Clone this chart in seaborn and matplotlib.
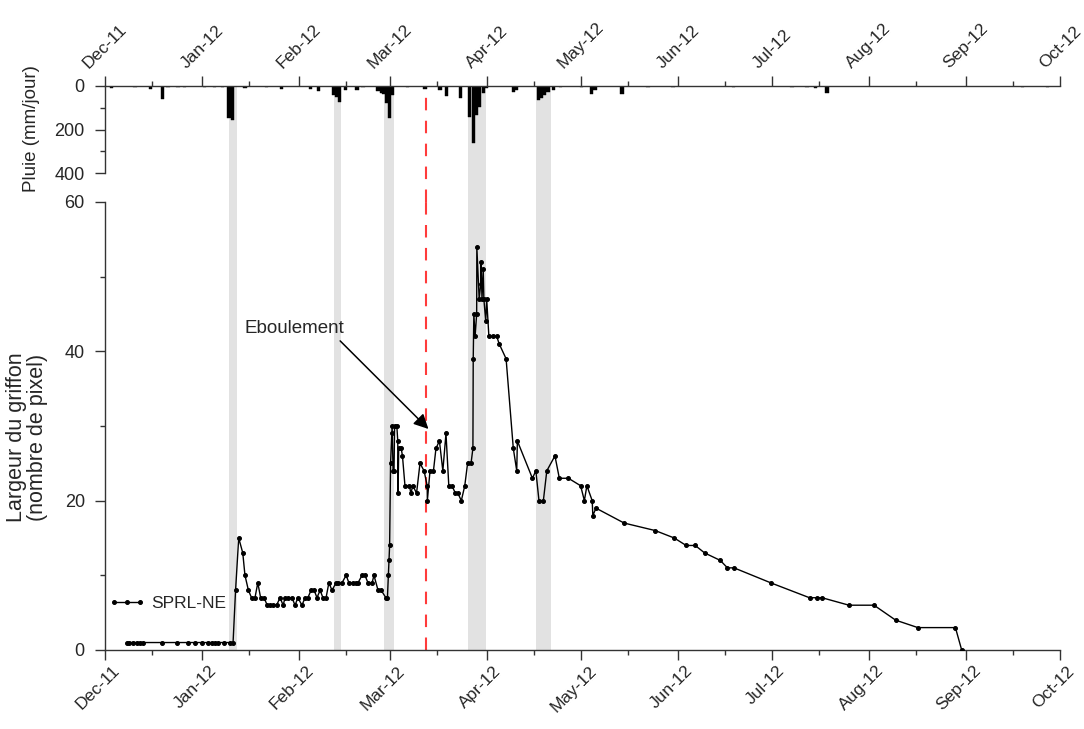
import numpy as np
import pandas as pd
import matplotlib
matplotlib.use("Agg")
import matplotlib.pyplot as plt
import matplotlib.dates as mdates
import matplotlib.transforms as mtransforms
from matplotlib.legend_handler import HandlerLine2D
import seaborn as sns

# ---------------- data ----------------
start_date = "2011-12-01"
# main series: days since 2011-12-01 and width (pixels)
griffon_days = [7, 7.7, 8.9, 10.2, 11.2, 12.1, 18.2, 23, 26.5, 28.7, 31, 32.9, 34.2, 35.1, 36.1, 38, 39.9, 40.9,
                41.7, 42.7, 44, 44.7, 45.8, 46.8, 47.9, 48.8, 49.7, 50.8, 51.8, 52.8, 53.8, 54.8, 55.9, 56.9,
                57.5, 58.4, 59.7, 60.7, 61.6, 62.9, 63.9, 64.8, 65.8, 66.8, 67.7, 68.7, 69.6, 70.6, 71.5, 72.5,
                73.8, 74.4, 75.7, 77, 77.9, 79.2, 80.2, 80.8, 82.1, 83, 84, 85.3, 85.9, 87.2, 88.2, 89.7, 90.2,
                90.5, 90.7, 90.9, 91.2, 91.6, 91.7, 92.0, 92.3, 92.5, 93.2, 93.5, 93.6, 93.8, 94.6, 95.0, 95.8,
                97.2, 97.7, 98.3, 99.5, 100.6, 101.9, 102.9, 102.95, 103.8, 104.9, 105.7, 106.8, 107.9, 108.9,
                109.8, 110.8, 111.9, 112.7, 113.8, 114.9, 115.8, 116.9, 117.5, 117.6, 117.8, 118.2, 118.7,
                118.75, 119.5, 120.0, 120.1, 120.4, 120.8, 121.0, 121.6, 121.9, 122.6, 124.0, 125.1, 125.9,
                128.1, 130.4, 131.5, 131.7, 136.5, 137.6, 138.6, 140.0, 141.1, 143.7, 145.1, 148.0, 151.9,
                153.1, 153.9, 155.6, 155.8, 156.8, 165.8, 175.7, 181.8, 185.6, 188.5, 191.5, 196.5, 198.8,
                200.9, 212.6, 225.0, 227.5, 229.0, 237.6, 245.6, 252.5, 259.6, 271.6, 273.6]
griffon_width = [1, 1, 1, 1, 1, 1, 1, 1, 1, 1, 1, 1, 1, 1, 1, 1, 1, 1,
                 8, 15, 13, 10, 8, 7, 7, 9, 7, 7, 6, 6, 6, 6, 7, 6,
                 7, 7, 7, 6, 7, 6, 7, 7, 8, 8, 7, 8, 7, 7, 9, 8,
                 9, 9, 9, 10, 9, 9, 9, 9, 10, 10, 9, 9, 10, 8, 8, 7, 7,
                 10, 12, 14, 25, 29, 30, 24, 24, 30, 30, 28, 21, 27, 27, 26, 22,
                 22, 21, 22, 21, 25, 24, 22, 20, 24, 24, 27, 28, 24, 29,
                 22, 22, 21, 21, 20, 22, 25, 25, 27, 39, 45, 42, 45,
                 54, 47, 49, 52, 47, 51, 47, 44, 47, 42, 42, 42, 41,
                 39, 27, 24, 28, 23, 24, 20, 20, 24, 26, 23, 23, 22,
                 20, 22, 20, 18, 19, 17, 16, 15, 14, 14, 13, 12, 11,
                 11, 9, 7, 7, 7, 6, 6, 4, 3, 3, 0]

# daily rainfall (mm/jour), days since 2011-12-01
rain_days = [2, 9.6, 14.4, 18.5, 20.1, 23.3, 25.5, 31.9, 35, 37.4, 39.6, 40.6, 44.7, 51.7, 56.5, 65.5, 68.3,
             73, 74, 75, 76.7, 80.5, 82.4, 87.2, 88.2, 89.1, 89.9, 90.8, 91.7, 96.5, 102.2, 107, 109.2, 113.4,
             116.5, 117.6, 118.7, 119.7, 120.8, 121.8, 130.5, 131.5, 138.4, 139.5, 140.5, 141.5, 143.1, 145.5,
             152.3, 155.5, 156.5, 165.1, 173.4, 181.4, 200.6, 219.4, 224.2, 226.8, 230.6, 292.9, 300.9]
rain_mm = [10, 4, 15, 60, 6, 4, 5, 4, 3, 3, 145, 155, 8, 4, 14, 15, 22,
           40, 52, 72, 20, 18, 5, 25, 30, 35, 80, 146, 40, 5, 15, 20, 45, 57,
           141, 261, 133, 95, 34, 10, 28, 20, 64, 55, 40, 28, 20, 5,
           5, 37, 20, 37, 4, 4, 5, 4, 6, 8, 30, 3, 4]

# rain events (grey bands), days since 2011-12-01
band_start = [39.6, 73.1, 89.1, 116.0, 137.7]
band_end = [42.2, 75.4, 92.3, 121.7, 142.4]
rockfall_day = 102.5

xlim_dates = ["2011-12-01", "2012-10-01"]
series_label = "SPRL-NE"

# ---------------- plotting ----------------
sns.set_theme(style="ticks")
plt.rcParams["font.family"] = ["Liberation Sans", "DejaVu Sans"]

base = pd.Timestamp(start_date)
to_date = lambda d: base + pd.to_timedelta(np.asarray(d, dtype=float), unit="D")

df = pd.DataFrame({"date": to_date(griffon_days), "width": griffon_width})
rain_dates = to_date(rain_days)

W, H = 1084, 729
fig = plt.figure(figsize=(W / 100, H / 100), dpi=100)
ax = fig.add_axes([105 / W, 79 / H, 955 / W, 448 / H])
axr = fig.add_axes([105 / W, 527 / H, 955 / W, 116 / H])

x0, x1 = pd.Timestamp(xlim_dates[0]), pd.Timestamp(xlim_dates[1])

for a in (ax, axr):
    for s, e in zip(band_start, band_end):
        a.axvspan(to_date(s), to_date(e), color="#e2e2e2", lw=0, zorder=0)
    a.axvline(to_date(rockfall_day), color="#ff3b3b", lw=1.5, ls=(0, (6, 5)), zorder=1)

# main line
sns.lineplot(data=df, x="date", y="width", ax=ax, color="black", marker="o", markersize=2.8,
             markeredgecolor="black", linewidth=1.0, sort=False, estimator=None, label=series_label,
             zorder=3)

# rain bars
axr.bar(rain_dates, rain_mm, width=1.0, color="black", edgecolor="black", linewidth=0.3,
        align="center", zorder=2)

for a in (ax, axr):
    a.set_xlim(x0, x1)
    a.xaxis.set_major_locator(mdates.MonthLocator())
    a.xaxis.set_minor_locator(mdates.MonthLocator(bymonthday=16))
    a.xaxis.set_major_formatter(mdates.DateFormatter("%b-%y"))
    a.tick_params(which="major", length=7.5, width=1, color="#333333", direction="out")
    a.tick_params(which="minor", length=3.8, width=1, color="#333333", direction="out")
    a.tick_params(axis="x", labelsize=12.5, pad=2)
    a.tick_params(axis="y", labelsize=13, pad=7)
    a.set_xlabel("")
    for sp in a.spines.values():
        sp.set_color("#333333")
        sp.set_linewidth(1)

# main axes
ax.set_ylim(0, 60)
ax.set_yticks([0, 20, 40, 60])
ax.set_yticks([10, 30, 50], minor=True)
ax.spines["top"].set_visible(False)
ax.spines["right"].set_visible(False)
ax.set_ylabel("Largeur du griffon\n(nombre de pixel)", fontsize=15.5, linespacing=1.0)
ax.yaxis.set_label_coords(-0.060, 0.475)
shift_b = mtransforms.ScaledTranslation(-7 / 100, 0, fig.dpi_scale_trans)
for lbl in ax.get_xticklabels():
    lbl.set_rotation(45)
    lbl.set_ha("center")
    lbl.set_va("top")
    lbl.set_transform(lbl.get_transform() + shift_b)

# rain axes
axr.set_ylim(533, 0)
axr.set_yticks([0, 200, 400])
axr.set_yticks([100, 300], minor=True)
axr.spines["left"].set_bounds(0, 400)
axr.spines["bottom"].set_visible(False)
axr.spines["right"].set_visible(False)
axr.xaxis.tick_top()
axr.tick_params(axis="x", which="both", top=True, bottom=False, labeltop=True, labelbottom=False, pad=3)
axr.set_ylabel("Pluie (mm/jour)", fontsize=13.5)
axr.yaxis.set_label_coords(-0.068, 0.634)
for lbl in axr.get_xticklabels():
    lbl.set_rotation(45)
    lbl.set_ha("center")
    lbl.set_va("bottom")
axr.patch.set_alpha(0)

# annotation
ax.annotate("", xy=(to_date(103.3), 29.6), xytext=(to_date(75.1), 41.4),
            arrowprops=dict(arrowstyle="-|>", color="black", lw=1.1, mutation_scale=22,
                            shrinkA=0, shrinkB=0), zorder=4)
ax.text(to_date(44.4), 43.0, "Eboulement", fontsize=13.5, ha="left", va="center")

handles, labels = ax.get_legend_handles_labels()
leg = ax.legend(handles, labels, loc="center left", bbox_to_anchor=(-0.007, 0.103), frameon=False,
                fontsize=12.5, handlelength=1.5, handletextpad=0.65,
                handler_map={h: HandlerLine2D(numpoints=3, marker_pad=0) for h in handles})

fig.savefig("out.png", dpi=100)
